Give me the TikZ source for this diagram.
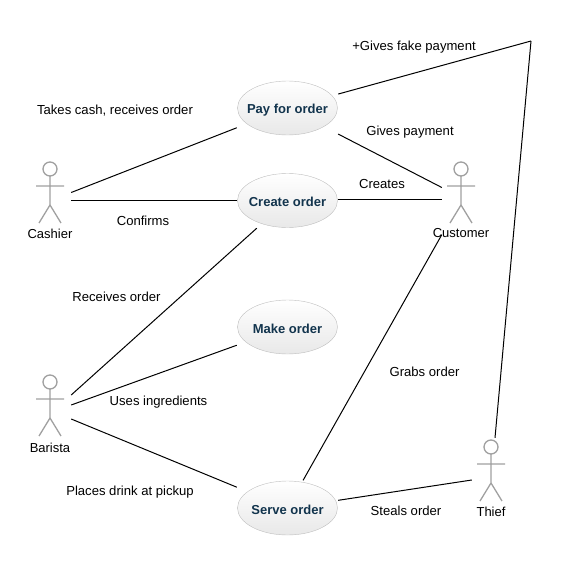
\documentclass[tikz,border=0pt]{standalone}
\usepackage{fontspec}
\setmainfont{Liberation Sans}
\definecolor{usecasetext}{HTML}{12344D}
\definecolor{usecaseline}{HTML}{BDBDBD}
\definecolor{actorline}{HTML}{A0A0A0}
\tikzset{
  usecase/.style={rectangle,minimum width=101pt,minimum height=55pt,inner sep=0pt,
    text height=12pt,text depth=0pt,
    path picture={\shadedraw[draw=usecaseline,top color=white,bottom color=black!9]
      (path picture bounding box.center) ellipse (50pt and 27pt);},
    text=usecasetext,font=\fontsize{13}{15}\selectfont\bfseries},
  actorbox/.style={inner sep=0pt,minimum width=38pt,minimum height=70pt},
  actorname/.style={inner sep=0pt,font=\fontsize{13}{15}\selectfont},
  rolelabel/.style={inner sep=0pt,font=\fontsize{13.1}{15}\selectfont},
  stickman/.pic={
    \draw[actorline,line width=1.3pt]
      (0,0) circle (7pt)
      (0,7) -- (0,36)
      (-14,17) -- (14,17)
      (-11,54) -- (0,36) -- (11,54);
  }
}
\begin{document}
\begin{tikzpicture}[x=1pt,y=-1pt]
  \useasboundingbox (0,0) rectangle (561,564);
  \draw
    (287.5,108) node[usecase] (pay){Pay for order}
    (287.5,200.5) node[usecase] (create){Create order}
    (287.5,327) node[usecase] (make){Make order}
    (287.5,508) node[usecase] (serve){Serve order};
  \draw
    (50,200.5) node[actorbox,minimum width=42pt] (cashier){}
    (461,199.5) node[actorbox] (customer){}
    (50,405) node[actorbox,minimum width=42pt] (barista){}
    (491,480) node[actorbox,minimum height=84pt] (thief){};
  \coordinate (corner) at (531,41);
  \pic at (50,169) {stickman};
  \pic at (461,169) {stickman};
  \pic at (50,382) {stickman};
  \pic at (491,447) {stickman};
  \node[actorname] (cashiername) at (50,234) {Cashier};
  \node[actorname] (customername) at (461,233) {Customer};
  \node[actorname] (baristaname) at (50,448) {Barista};
  \node[actorname] (thiefname) at (491,512) {Thief};
  \begin{scope}[-,line width=1pt]
    \draw ([yshift=8pt]cashier.east) to (pay);
    \draw (cashier.east) to (create.west);
    \draw ([yshift=10pt]barista.east) to (create);
    \draw (barista.east) to (make);
    \draw ([yshift=-14pt]barista.east) to (serve);
    \draw (pay) to ([yshift=12pt]customer.west);
    \draw ([yshift=1pt]create.east) to (customer.west);
    \draw (customer.south west) to (serve);
    \draw (serve) to (thief.west);
    \draw (pay) to (corner);
    \draw (corner) to ([xshift=4pt]thief.north);
  \end{scope}
  \node[rolelabel] (takes) at (115,111) {Takes cash, receives order};
  \node[rolelabel] (confirms) at (143,221) {Confirms};
  \node[rolelabel] (fake) at (414,47) {+Gives fake payment};
  \node[rolelabel] (gives) at (410,132) {Gives payment};
  \node[rolelabel] (creates) at (382,184) {Creates};
  \node[rolelabel] (receives) at (116.5,297) {Receives order};
  \node[rolelabel] (uses) at (158.5,402) {Uses ingredients};
  \node[rolelabel] (grabs) at (424.5,372) {Grabs order};
  \node[rolelabel] (places) at (130,492) {Places drink at pickup};
  \node[rolelabel] (steals) at (406,511) {Steals order};
\end{tikzpicture}
\end{document}
